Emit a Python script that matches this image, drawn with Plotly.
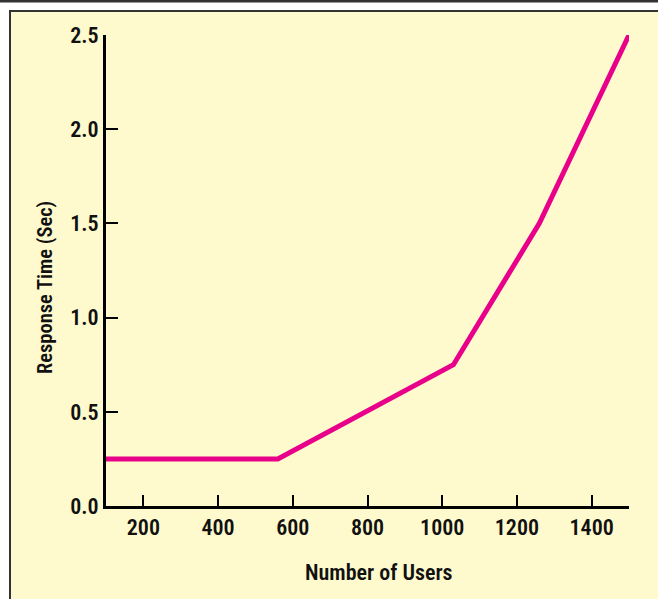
import plotly.graph_objects as go

# Data
users = [100, 560, 1030, 1260, 1500]
response_sec = [0.25, 0.25, 0.75, 1.5, 2.5]
x_ticks = [200, 400, 600, 800, 1000, 1200, 1400]
y_ticks = [0.0, 0.5, 1.0, 1.5, 2.0, 2.5]
y_tick_text = ["0.0", "0.5", "1.0", "1.5", "2.0", "2.5"]

W, H = 658, 599
L, R, T, B = 106, 29, 35, 93
PW, PH = W - L - R, H - T - B

def px(x):
    return (x - L) / PW

def py(y):
    return (H - B - y) / PH

FONT = "Noto Sans Condensed, Roboto Condensed, Liberation Sans Narrow, DejaVu Sans Condensed, sans-serif"
YELLOW = "#FFFACD"
DARK = "#333333"

fig = go.Figure()
fig.add_trace(go.Scatter(
    x=users, y=response_sec, mode="lines",
    line=dict(color="#E8008A", width=5),
    hoverinfo="skip", showlegend=False,
))

shapes = [
    dict(type="rect", xref="paper", yref="paper", x0=px(11), x1=px(W + 5), y0=py(11), y1=py(H + 5),
         fillcolor=YELLOW, line=dict(width=0), layer="below"),
    dict(type="rect", xref="paper", yref="paper", x0=px(-5), x1=px(W + 5), y0=py(-5), y1=py(2.5),
         fillcolor=DARK, line=dict(width=0), layer="below"),
    dict(type="line", xref="paper", yref="paper", x0=px(9), x1=px(W + 5), y0=py(11), y1=py(11),
         line=dict(color=DARK, width=2), layer="below"),
    dict(type="line", xref="paper", yref="paper", x0=px(10), x1=px(10), y0=py(10), y1=py(H + 5),
         line=dict(color=DARK, width=2), layer="below"),
]

annotations = [
    dict(text="Number of Users", xref="paper", yref="paper", x=px(379), y=py(572),
         xanchor="center", yanchor="middle", showarrow=False,
         font=dict(family=FONT, size=22, color="#111111", weight=600)),
    dict(text="Response Time (Sec)", xref="paper", yref="paper", x=px(45), y=py(288),
         xanchor="center", yanchor="middle", showarrow=False, textangle=-90,
         font=dict(family=FONT, size=20.5, color="#111111", weight=600)),
]

tickfont = dict(family=FONT, size=22, color="#111111", weight=600)

fig.update_layout(
    width=W, height=H,
    margin=dict(l=L, r=R, t=T, b=B, pad=0),
    paper_bgcolor="white",
    plot_bgcolor="rgba(0,0,0,0)",
    shapes=shapes,
    annotations=annotations,
    font=dict(family=FONT, color="#111111"),
    xaxis=dict(
        range=[100, 1500], tickvals=x_ticks, ticks="inside", ticklen=11, tickwidth=2,
        tickcolor="black", showline=True, linecolor="black", linewidth=3,
        showgrid=False, zeroline=False, tickfont=tickfont, fixedrange=True,
    ),
    yaxis=dict(
        range=[0, 2.5], tickvals=y_ticks, ticktext=y_tick_text, ticks="inside", ticklen=12,
        tickwidth=2, tickcolor="black", showline=True, linecolor="black", linewidth=3,
        showgrid=False, zeroline=False, tickfont=tickfont, fixedrange=True,
    ),
)

fig.write_html("out.html", post_script="document.body.style.margin='0';",
               config={"displayModeBar": False})
